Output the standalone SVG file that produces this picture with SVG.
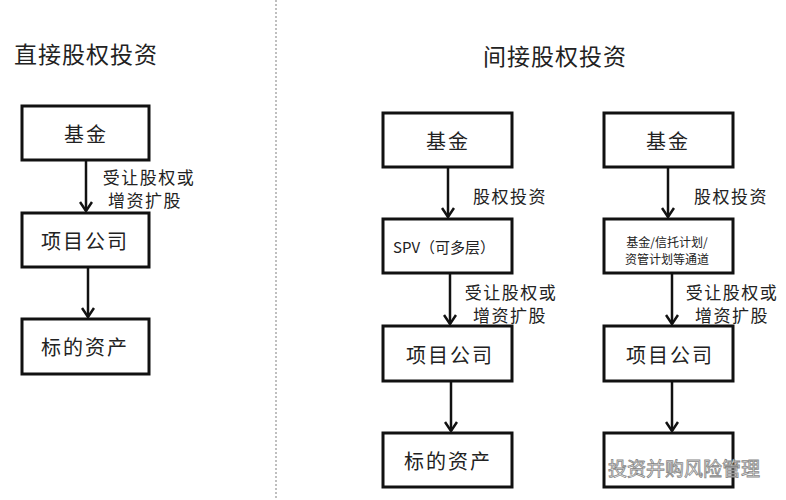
<svg xmlns="http://www.w3.org/2000/svg" width="786" height="500" viewBox="0 0 786 500">
<style>
.box{fill:#fff;stroke:#111;stroke-width:3}
.lbl{font-family:"Noto Sans CJK SC",sans-serif;fill:#222;text-anchor:middle;dominant-baseline:central}
.b{font-size:20px;letter-spacing:2px}
.e{font-size:17px;letter-spacing:1.5px}
.t{font-size:23px;letter-spacing:1px}
.conn line{stroke:#111;stroke-width:2.5}
</style>
<defs>
<marker id="arr" viewBox="0 0 12 14" refX="11" refY="7" markerWidth="12" markerHeight="14" markerUnits="userSpaceOnUse" orient="auto">
<polyline points="2,1 11,7 2,13" fill="none" stroke="#111" stroke-width="2.5"/>
</marker>
</defs>
<rect width="786" height="500" fill="#fff"/>
<line x1="276" y1="0" x2="276" y2="500" stroke="#aaa" stroke-width="1.5" stroke-dasharray="2,2"/>
<text class="lbl t" x="86" y="53">直接股权投资</text>
<text class="lbl t" x="555" y="55">间接股权投资</text>

<g id="conns" class="conn">
<line x1="86" y1="160" x2="86" y2="211" marker-end="url(#arr)"/>
<line x1="88" y1="267" x2="88" y2="317" marker-end="url(#arr)"/>
<line x1="448" y1="167" x2="448" y2="217" marker-end="url(#arr)"/>
<line x1="450" y1="273" x2="450" y2="324" marker-end="url(#arr)"/>
<line x1="451" y1="381" x2="451" y2="431" marker-end="url(#arr)"/>
<line x1="668" y1="167" x2="668" y2="217" marker-end="url(#arr)"/>
<line x1="672" y1="273" x2="672" y2="324" marker-end="url(#arr)"/>
<line x1="672" y1="381" x2="672" y2="431" marker-end="url(#arr)"/>
</g>
<g id="edge-labels">
<text class="lbl e" x="149" y="176">受让股权或</text>
<text class="lbl e" x="145" y="199">增资扩股</text>
<text class="lbl e" x="510" y="195">股权投资</text>
<text class="lbl e" x="731" y="195">股权投资</text>
<text class="lbl e" x="511" y="291">受让股权或</text>
<text class="lbl e" x="510" y="314">增资扩股</text>
<text class="lbl e" x="732" y="291">受让股权或</text>
<text class="lbl e" x="732" y="314">增资扩股</text>
</g>

<g id="n1"><rect class="box" x="22" y="106" width="127" height="54"/><text class="lbl b" x="86" y="133">基金</text></g>
<g id="n2"><rect class="box" x="22" y="213" width="127" height="54"/><text class="lbl b" x="85" y="240">项目公司</text></g>
<g id="n3"><rect class="box" x="22" y="319" width="127" height="55"/><text class="lbl b" x="85" y="346">标的资产</text></g>

<g id="n4"><rect class="box" x="383" y="113" width="129" height="54"/><text class="lbl b" x="448" y="140">基金</text></g>
<g id="n5"><rect class="box" x="383" y="219" width="129" height="54"/><text class="lbl" style="font-size:15px" x="444" y="246">SPV（可多层）</text></g>
<g id="n6"><rect class="box" x="383" y="326" width="129" height="55"/><text class="lbl b" x="450" y="354">项目公司</text></g>
<g id="n7"><rect class="box" x="383" y="433" width="129" height="54"/><text class="lbl b" x="448" y="460">标的资产</text></g>

<g id="n8"><rect class="box" x="604" y="113" width="129" height="54"/><text class="lbl b" x="668" y="140">基金</text></g>
<g id="n9"><rect class="box" x="604" y="219" width="129" height="54"/><text class="lbl" style="font-size:12px" x="667" y="241.5">基金/信托计划/</text><text class="lbl" style="font-size:12px" x="667" y="258.5">资管计划等通道</text></g>
<g id="n10"><rect class="box" x="604" y="326" width="129" height="55"/><text class="lbl b" x="670" y="354">项目公司</text></g>
<g id="n11"><rect class="box" x="604" y="433" width="129" height="54"/></g>

<text x="684" y="467" font-family="Noto Sans CJK SC,sans-serif" font-size="19" fill="#f4f4f4" stroke="#888" stroke-width="0.8" text-anchor="middle" dominant-baseline="central">投资并购风险管理</text>
</svg>
